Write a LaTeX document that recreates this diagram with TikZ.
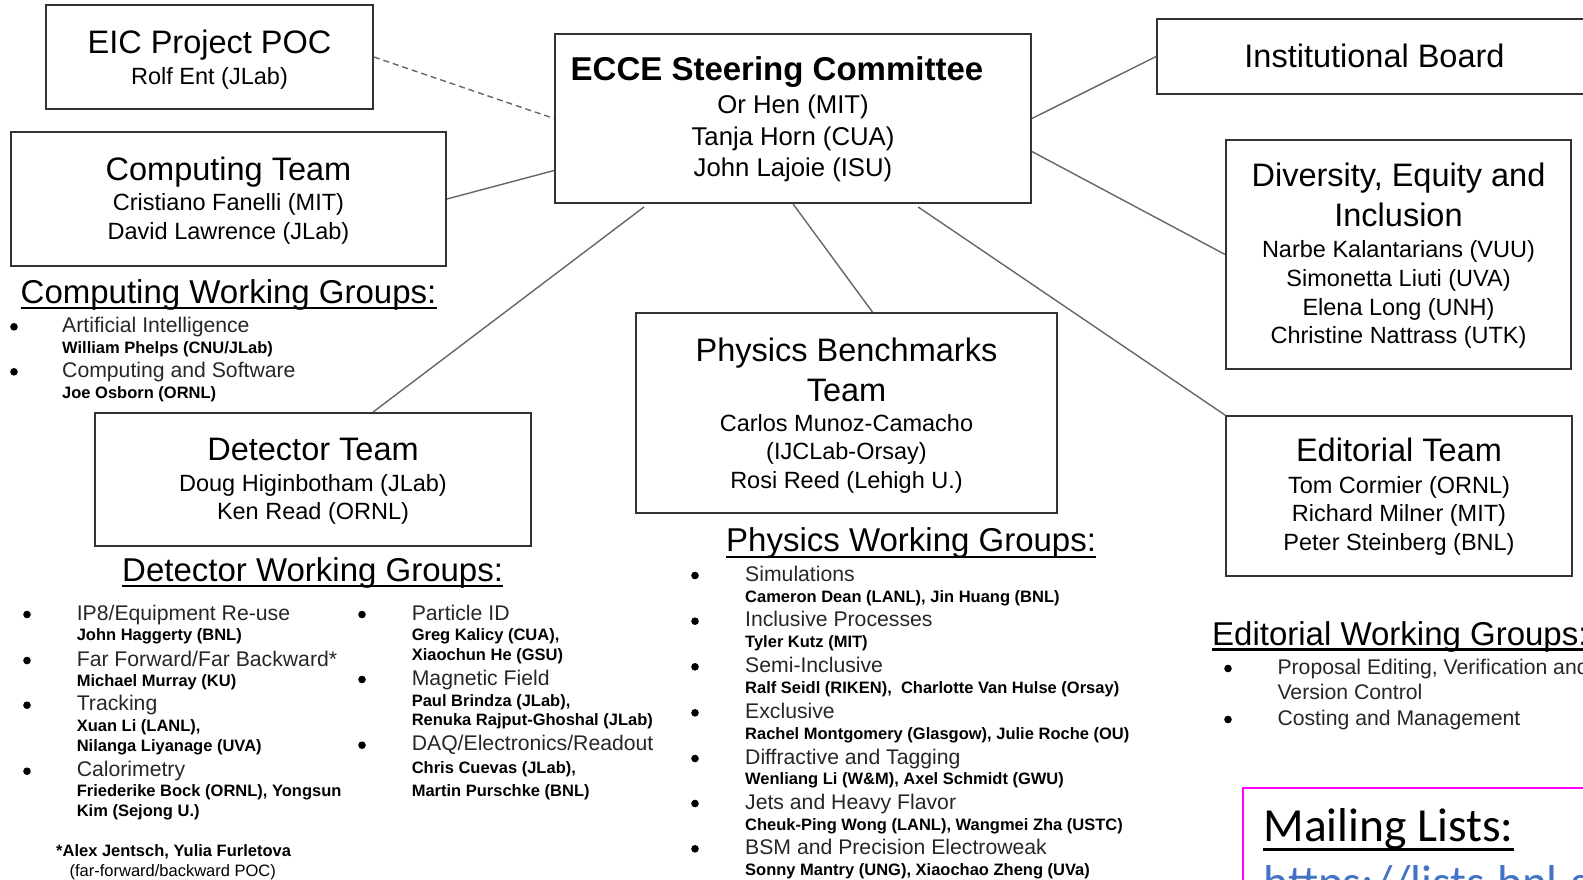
\documentclass[tikz,border=0pt]{standalone}
\usepackage{fontspec}
\setmainfont{Liberation Sans}
\newfontfamily\calibrifont{Carlito}
\usepackage{xcolor}
\usepackage{tikz}

\definecolor{linkblue}{HTML}{4472C4}
\definecolor{mailpink}{HTML}{FF00FF}

\begin{document}
\begin{tikzpicture}[x=1pt, y=-1pt,
    box/.style={draw=black!80, line width=1.8pt, inner sep=0pt},
    link/.style={draw=black!60, line width=1.4pt},
    title/.style={anchor=base, inner sep=0pt, font=\fontsize{32.5}{38}\selectfont},
    names/.style={anchor=base, inner sep=0pt, font=\fontsize{23.5}{28}\selectfont},
    heading/.style={anchor=base west, inner sep=0pt, font=\fontsize{33}{40}\selectfont},
    item/.style={anchor=base west, inner sep=0pt, text=black!85, font=\fontsize{21.2}{25}\selectfont},
    who/.style={anchor=base west, inner sep=0pt, font=\fontsize{16.5}{20}\selectfont\bfseries},
    uline/.style={line width=2.2pt}]
             \useasboundingbox (0,0) rectangle (1583,879);
             \clip (0,0) rectangle (1583,879);

             % boxes
             \node[box, minimum width=327, minimum height=104] (eic) at (209.5,57) {};
             \node[box, minimum width=435, minimum height=134] (comp) at (228.5,199) {};
             \node[box, minimum width=476, minimum height=169] (ecce) at (793,118.5) {};
             \node[box, minimum width=435, minimum height=75] (inst) at (1374.5,56.5) {};
             \node[box, minimum width=345, minimum height=229] (dei) at (1398.5,254.5) {};
             \node[box, minimum width=421, minimum height=200] (phys) at (846.5,413) {};
             \node[box, minimum width=436, minimum height=133] (det) at (313,479.5) {};
             \node[box, minimum width=346, minimum height=160] (edit) at (1399,496) {};

             % connectors
             \draw[link, dashed, dash pattern=on 6pt off 4pt] (eic.east) -- (ecce.west);
             \draw[link] (comp.east) -- ([yshift=-52pt]ecce.west);
             \draw[link] ([xshift=90pt, yshift=-3pt]ecce.south west) -- ([xshift=60pt]det.north);
             \draw[link] (ecce.south) -- ([xshift=26pt]phys.north);
             \draw[link] ([xshift=125pt, yshift=-3pt]ecce.south) -- (edit.north west);
             \draw[link] (ecce.east) -- (inst.west);
             \draw[link] ([yshift=-33pt]ecce.east) -- (dei.west);

             % box texts
             \node[title] (eic-t) at (209.5,53.5) {EIC Project POC};
             \node[names] (eic-n) at (209.5,84.5) {Rolf Ent (JLab)};

             \node[title] (comp-t) at (228.5,180.5) {Computing Team};
             \node[names] (comp-n1) at (228.5,210.5) {Cristiano Fanelli (MIT)};
             \node[names] (comp-n2) at (228.5,239) {David Lawrence (JLab)};

             \node[title, font=\fontsize{33}{38}\selectfont\bfseries] (ecce-t) at (777,80) {ECCE Steering Committee};
             \node[names, font=\fontsize{25.7}{30}\selectfont] (ecce-n1) at (793,113) {Or Hen (MIT)};
             \node[names, font=\fontsize{25.7}{30}\selectfont] (ecce-n2) at (793,145.7) {Tanja Horn (CUA)};
             \node[names, font=\fontsize{25.7}{30}\selectfont] (ecce-n3) at (793,176.7) {John Lajoie (ISU)};

             \node[title] (inst-t) at (1374.5,67.7) {Institutional Board};

             \node[title] (dei-t1) at (1398.5,186.7) {Diversity, Equity and};
             \node[title] (dei-t2) at (1398.5,226.7) {Inclusion};
             \node[names] (dei-n1) at (1398.5,257.7) {Narbe Kalantarians (VUU)};
             \node[names] (dei-n2) at (1398.5,286.7) {Simonetta Liuti (UVA)};
             \node[names] (dei-n3) at (1398.5,315) {Elena Long (UNH)};
             \node[names] (dei-n4) at (1398.5,343.3) {Christine Nattrass (UTK)};

             \node[title] (phys-t1) at (846.5,361.5) {Physics Benchmarks};
             \node[title] (phys-t2) at (846.5,401.5) {Team};
             \node[names] (phys-n1) at (846.5,431.5) {Carlos Munoz-Camacho};
             \node[names] (phys-n2) at (846.5,459.5) {(IJCLab-Orsay)};
             \node[names] (phys-n3) at (846.5,488.5) {Rosi Reed (Lehigh U.)};

             \node[title] (det-t) at (313,460.7) {Detector Team};
             \node[names] (det-n1) at (313,491.7) {Doug Higinbotham (JLab)};
             \node[names] (det-n2) at (313,519.3) {Ken Read (ORNL)};

             \node[title] (edit-t) at (1399,461.7) {Editorial Team};
             \node[names] (edit-n1) at (1399,493.3) {Tom Cormier (ORNL)};
             \node[names] (edit-n2) at (1399,521.7) {Richard Milner (MIT)};
             \node[names] (edit-n3) at (1399,550) {Peter Steinberg (BNL)};

             % computing working groups
             \node[heading] (cwg) at (20.5,303.3) {Computing Working Groups:};
             \draw[uline] ([yshift=-5pt]cwg.base west) -- ([yshift=-5pt]cwg.base east);
             \foreach \y in {332.3,377.3} \fill (14,\y-5.5) circle (3.8pt);
             \node[item] (cwg-1) at (62,332.3) {Artificial Intelligence};
             \node[who] (cwg-1w) at (62,353.3) {William Phelps (CNU/JLab)};
             \node[item] (cwg-2) at (62,377.3) {Computing and Software};
             \node[who] (cwg-2w) at (62,398.3) {Joe Osborn (ORNL)};

             % detector working groups
             \node[heading] (dwg) at (122,581) {Detector Working Groups:};
             \draw[uline] ([yshift=-5pt]dwg.base west) -- ([yshift=-5pt]dwg.base east);
             \foreach \y in {620,666,710.7,776.7} \fill (27,\y-5.5) circle (3.8pt);
             \node[item] (dwg-1) at (76.6,620) {IP8/Equipment Re-use};
             \node[who] (dwg-1w) at (76.6,640.7) {John Haggerty (BNL)};
             \node[item] (dwg-2) at (76.6,666) {Far Forward/Far Backward*};
             \node[who] (dwg-2w) at (76.6,686) {Michael Murray (KU)};
             \node[item] (dwg-3) at (76.6,710.7) {Tracking};
             \node[who] (dwg-3w) at (76.6,731.7) {Xuan Li (LANL),};
             \node[who] (dwg-3v) at (76.6,751.7) {Nilanga Liyanage (UVA)};
             \node[item] (dwg-4) at (76.6,776.7) {Calorimetry};
             \node[who] (dwg-4w) at (76.6,796.7) {Friederike Bock (ORNL), Yongsun};
             \node[who] (dwg-4v) at (76.6,816.7) {Kim (Sejong U.)};
             \node[who] (ff-note) at (56,856.7) {*Alex Jentsch, Yulia Furletova};
             \node[who, font=\fontsize{16.5}{20}\selectfont] (ff-poc) at (69.4,876.7) {(far-forward/backward POC)};

             \foreach \y in {620,685,750.7} \fill (362,\y-5.5) circle (3.8pt);
             \node[item] (dwg-5) at (411.6,620) {Particle ID};
             \node[who] (dwg-5w) at (411.6,640.7) {Greg Kalicy (CUA),};
             \node[who] (dwg-5v) at (411.6,660) {Xiaochun He (GSU)};
             \node[item] (dwg-6) at (411.6,685) {Magnetic Field};
             \node[who] (dwg-6w) at (411.6,706) {Paul Brindza (JLab),};
             \node[who] (dwg-6v) at (411.6,725.7) {Renuka Rajput-Ghoshal (JLab)};
             \node[item] (dwg-7) at (411.6,750.7) {DAQ/Electronics/Readout};
             \node[who] (dwg-7w) at (411.6,773.3) {Chris Cuevas (JLab),};
             \node[who] (dwg-7v) at (411.6,796.7) {Martin Purschke (BNL)};

             % physics working groups
             \node[heading] (pwg) at (726,551.7) {Physics Working Groups:};
             \draw[uline] ([yshift=-5pt]pwg.base west) -- ([yshift=-5pt]pwg.base east);
             \foreach \y in {581,626.7,672.3,718.3,764,809,854.3} \fill (695,\y-5.5) circle (3.8pt);
             \node[item] (pwg-1) at (745,581) {Simulations};
             \node[who] (pwg-1w) at (745,602.3) {Cameron Dean (LANL), Jin Huang (BNL)};
             \node[item] (pwg-2) at (745,626.7) {Inclusive Processes};
             \node[who] (pwg-2w) at (745,647.7) {Tyler Kutz (MIT)};
             \node[item] (pwg-3) at (745,672.3) {Semi-Inclusive};
             \node[who] (pwg-3w) at (745,693.3) {Ralf Seidl (RIKEN),\ \ Charlotte Van Hulse (Orsay)};
             \node[item] (pwg-4) at (745,718.3) {Exclusive};
             \node[who] (pwg-4w) at (745,739.3) {Rachel Montgomery (Glasgow), Julie Roche (OU)};
             \node[item] (pwg-5) at (745,764) {Diffractive and Tagging};
             \node[who] (pwg-5w) at (745,784.3) {Wenliang Li (W\&M), Axel Schmidt (GWU)};
             \node[item] (pwg-6) at (745,809) {Jets and Heavy Flavor};
             \node[who] (pwg-6w) at (745,830) {Cheuk-Ping Wong (LANL), Wangmei Zha (USTC)};
             \node[item] (pwg-7) at (745,854.3) {BSM and Precision Electroweak};
             \node[who] (pwg-7w) at (745,875.7) {Sonny Mantry (UNG), Xiaochao Zheng (UVa)};

             % editorial working groups
             \node[heading] (ewg) at (1212,645) {Editorial Working Groups:};
             \draw[uline] ([yshift=-4.5pt]ewg.base west) -- ([yshift=-4.5pt]ewg.base east);
             \foreach \y in {674,725} \fill (1228,\y-5.5) circle (3.8pt);
             \node[item] (ewg-1) at (1277.3,674) {Proposal Editing, Verification and};
             \node[item] (ewg-1b) at (1277.3,699.3) {Version Control};
             \node[item] (ewg-2) at (1277.3,725) {Costing and Management};

             % mailing lists
             \draw[mailpink, line width=2pt] (1243,788.3) rectangle (1700,960);
             \node[anchor=base west, inner sep=0pt, font=\calibrifont\fontsize{47.5}{56}\selectfont] (mail) at (1263.3,841.7) {Mailing Lists:};
             \draw[line width=2.8pt] ([yshift=-7.5pt]mail.base west) -- ([yshift=-7.5pt]mail.base east);
             \node[anchor=base west, inner sep=0pt, text=linkblue, font=\calibrifont\fontsize{47.5}{56}\selectfont] (mail-url) at (1263.3,898) {https://lists.bnl.gov};
             \end{tikzpicture}
\end{document}
